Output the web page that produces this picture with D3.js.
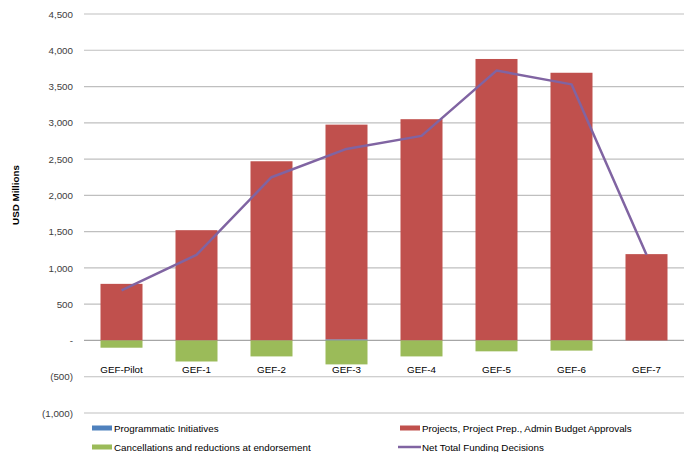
<!DOCTYPE html>
<html><head><meta charset="utf-8">
<script src="https://cdn.jsdelivr.net/npm/d3@7"></script>
<style>body{margin:0;background:#fff}svg text{font-family:"Liberation Sans",Arial,sans-serif}</style>
</head><body><svg id="c" width="689" height="452"></svg>
<script>
const categories=["GEF-Pilot","GEF-1","GEF-2","GEF-3","GEF-4","GEF-5","GEF-6","GEF-7"];
const programmatic=[0,0,0,15,0,0,0,0];
const projects=[780,1520,2470,2960,3050,3880,3690,1190];
const cancellations=[-100,-290,-220,-330,-220,-150,-140,0];
const netTotal=[690,1180,2250,2640,2820,3720,3530,1180];
const yTicks=[-1000,-500,0,500,1000,1500,2000,2500,3000,3500,4000,4500];

const svg=d3.select("#c");
const x=d3.scaleBand().domain(categories).range([84,684]).paddingInner(0.44).paddingOuter(0.22);
const y=d3.scaleLinear().domain([-1000,4500]).range([413,14]);
const fmt=v=>v===0?"-":(v<0?"("+d3.format(",")(-v)+")":d3.format(",")(v));

svg.selectAll("line.grid").data(yTicks).join("line")
 .attr("x1",84).attr("x2",684).attr("y1",d=>y(d)).attr("y2",d=>y(d))
 .attr("stroke",d=>d===0?"#a6a6a6":"#bfbfbf").attr("stroke-width",1.2);
const ya=d3.axisLeft(y).tickValues(yTicks).tickFormat(fmt).tickSize(0).tickPadding(11);
svg.append("g").attr("transform","translate(84,0)").call(ya)
 .call(s=>s.select(".domain").remove())
 .selectAll("text").attr("font-size",9.8).attr("fill","#404040").attr("font-family",null);
svg.append("text").attr("transform","translate(19,195) rotate(-90)").attr("text-anchor","middle")
 .attr("font-size",9.8).attr("font-weight","bold").attr("fill","#000").text("USD Millions");

const rows=categories.map((c,i)=>({c,p:programmatic[i],r:projects[i],n:cancellations[i]}));
rows.forEach(d=>{
  let pos=0,neg=0;
  [["p","#4f81bd"],["r","#c0504d"],["n","#9bbb59"]].forEach(([k,col])=>{
    const v=d[k]; if(!v) return;
    let y0,y1;
    if(v>0){y0=pos;y1=pos+v;pos=y1;} else {y0=neg;y1=neg+v;neg=y1;}
    svg.append("rect").attr("x",x(d.c)).attr("width",x.bandwidth())
      .attr("y",y(Math.max(y0,y1))).attr("height",Math.abs(y(y0)-y(y1))).attr("fill",col);
  });
});
const line=d3.line().x((d,i)=>x(categories[i])+x.bandwidth()/2).y(d=>y(d));
svg.append("path").datum(netTotal).attr("d",line).attr("fill","none").attr("stroke","#8064a2").attr("stroke-width",2.5).attr("stroke-linejoin","round");

svg.selectAll("text.xl").data(categories).join("text").attr("class","xl")
 .attr("x",d=>x(d)+x.bandwidth()/2).attr("y",373).attr("text-anchor","middle")
 .attr("font-size",9.8).attr("fill","#000").text(d=>d);

const leg=[["Programmatic Initiatives","#4f81bd",92,428,"rect"],
 ["Projects, Project Prep., Admin Budget Approvals","#c0504d",400,428,"rect"],
 ["Cancellations and reductions at endorsement","#9bbb59",92,447,"rect"],
 ["Net Total Funding Decisions","#8064a2",398,447,"line"]];
leg.forEach(([t,c,lx,ly,k])=>{
  if(k==="rect") svg.append("rect").attr("x",lx).attr("y",ly-2.5).attr("width",20).attr("height",5).attr("fill",c);
  else svg.append("line").attr("x1",lx).attr("x2",lx+23).attr("y1",ly).attr("y2",ly).attr("stroke",c).attr("stroke-width",2.5);
  svg.append("text").attr("x",k==="rect"?lx+22:lx+24).attr("y",ly+3.5).attr("font-size",9.8).attr("fill","#000").text(t);
});
</script></body></html>
